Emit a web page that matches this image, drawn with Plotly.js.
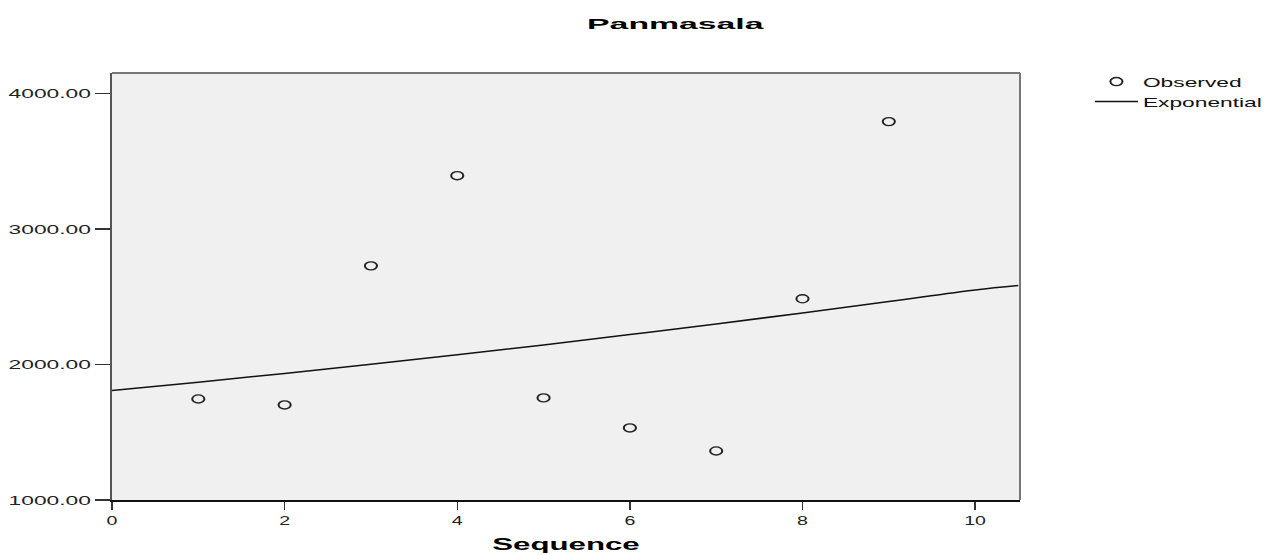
<!DOCTYPE html>
<html>
<head>
<meta charset="utf-8">
<script src="https://cdn.plot.ly/plotly-3.0.1.min.js"></script>
<style>html,body{margin:0;padding:0;background:#fff;}#chart{width:1267px;height:555px;}</style>
</head>
<body>
<div id="chart"></div>
<script>
// Observed values
const seqX = [1, 2, 3, 4, 5, 6, 7, 8, 9];
const observedY = [1746, 1702, 2729, 3395, 1754, 1532, 1362, 2486, 3794];
// Exponential fit curve
const fitX = [0, 1, 2, 3, 4, 5, 6, 7, 8, 9, 10, 10.5];
const fitY = [1808, 1870, 1935, 2003, 2073, 2145, 2222, 2300, 2381, 2465, 2551, 2584];
const yTicks = [1000, 2000, 3000, 4000];
const yTickText = ['1000.00', '2000.00', '3000.00', '4000.00'];
const xTicks = [0, 2, 4, 6, 8, 10];

const font = 'Liberation Sans, Arial, sans-serif';

const traces = [
  {
    x: seqX, y: observedY, type: 'scatter', mode: 'markers', name: 'Observed',
    marker: {symbol: 'circle-open', size: 9, color: '#222', line: {width: 1.5, color: '#222'}},
    cliponaxis: false
  },
  {
    x: fitX, y: fitY, type: 'scatter', mode: 'lines', name: 'Exponential',
    line: {color: '#111', width: 1.5, shape: 'spline'}
  }
];

const layout = {
  width: 1267, height: 555,
  paper_bgcolor: '#ffffff', plot_bgcolor: '#f0f0f0',
  margin: {l: 112, r: 247, t: 73, b: 55},
  font: {family: font, color: '#111', size: 13},
  title: {text: '<b>Panmasala</b>', font: {family: font, size: 15, color: '#000'},
          xref: 'container', x: 0.533, xanchor: 'center', yref: 'container', y: 0.958, yanchor: 'middle'},
  xaxis: {
    range: [0, 10.52], tickvals: xTicks, ticks: 'outside', ticklen: 8, tickwidth: 1.5, tickcolor: '#333',
    showgrid: false, zeroline: false, showline: true, linecolor: '#111', linewidth: 1.5,
    tickfont: {family: font, size: 13, color: '#222'},
    title: {text: '<b>Sequence</b>', font: {family: font, size: 16, color: '#000'}, standoff: 11}
  },
  yaxis: {
    range: [1000, 4153], tickvals: yTicks, ticktext: yTickText, ticks: 'outside', ticklen: 15, tickwidth: 1.5, tickcolor: '#333',
    showgrid: false, zeroline: false, showline: true, linecolor: '#555', linewidth: 2.5,
    tickfont: {family: font, size: 13, color: '#222'}, ticklabelstandoff: 1
  },
  shapes: [
    {type: 'line', xref: 'paper', yref: 'paper', x0: 0, x1: 1, y0: 1, y1: 1, line: {color: '#777', width: 2}},
    {type: 'line', xref: 'paper', yref: 'paper', x0: 1, x1: 1, y0: 0, y1: 1, line: {color: '#777', width: 2}}
  ],
  showlegend: true,
  legend: {x: 1.077, xanchor: 'left', y: 1.015, yanchor: 'top', bgcolor: 'rgba(0,0,0,0)',
           font: {family: font, size: 13, color: '#111'}, tracegroupgap: 0, itemwidth: 43}
};

function stretch(sel, factor) {
  document.querySelectorAll(sel).forEach(function (t) {
    const w = t.getComputedTextLength();
    if (w > 0) {
      t.setAttribute('textLength', (w * factor).toFixed(1));
      t.setAttribute('lengthAdjust', 'spacingAndGlyphs');
    }
  });
}

Plotly.newPlot('chart', traces, layout, {displayModeBar: false, staticPlot: true}).then(function () {
  // the reference rendering is horizontally widened
  stretch('#chart .ytick text', 1.75);
  stretch('#chart .xtick text', 1.5);
  stretch('#chart .legendtext', 1.75);
  stretch('#chart .g-xtitle text', 1.95);
  stretch('#chart .g-gtitle text', 2.25);
  document.querySelectorAll('#chart .legend [clip-path]').forEach(function (el) {
    el.removeAttribute('clip-path');
  });
  document.querySelectorAll('#chart .scatterlayer .point, #chart .legendpoints .scatterpts').forEach(function (p) {
    const tr = p.getAttribute('transform') || '';
    p.setAttribute('transform', tr + ' scale(1.35,0.9)');
  });
});
</script>
</body>
</html>
